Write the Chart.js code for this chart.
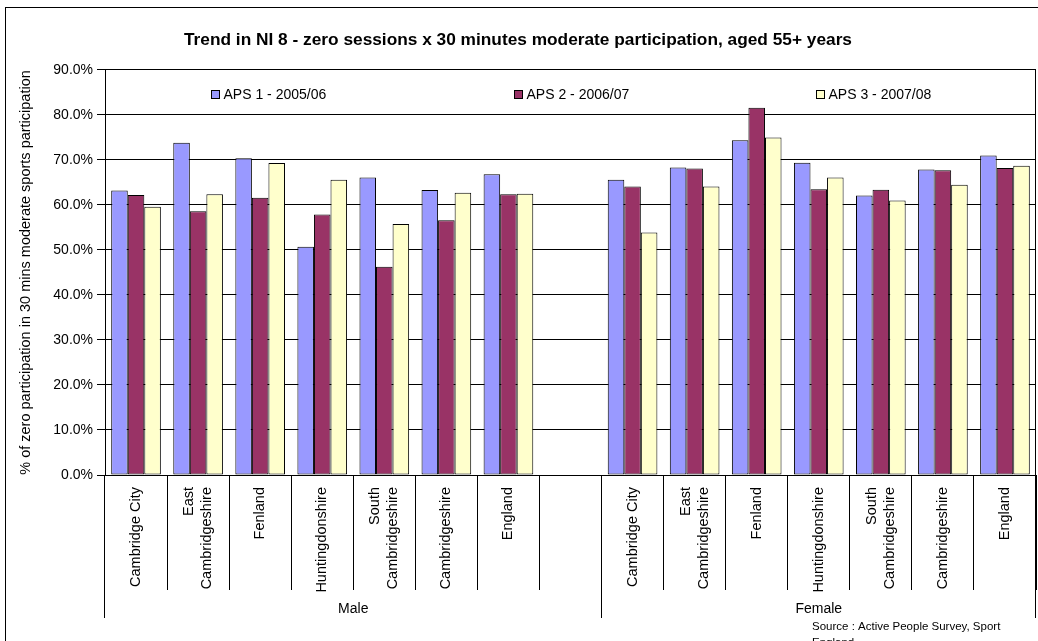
<!DOCTYPE html>
<html>
<head>
<meta charset="utf-8">
<script src="https://cdn.jsdelivr.net/npm/chart.js@4.4.0/dist/chart.umd.min.js"></script>
<style>
  body { margin: 0; background: #fff; }
  canvas { display: block; }
</style>
</head>
<body>
<canvas id="chart" width="1038" height="641"></canvas>
<script>
// areas, one label line per entry
const areas = [
  ["Cambridge City"],
  ["East", "Cambridgeshire"],
  ["Fenland"],
  ["Huntingdonshire"],
  ["South", "Cambridgeshire"],
  ["Cambridgeshire"],
  ["England"],
];
const groups = ["Male", "Female"];
const categories = [...areas, [""], ...areas];

const seriesNames = ["APS 1 - 2005/06", "APS 2 - 2006/07", "APS 3 - 2007/08"];
const aps1 = [63.2, 73.8, 70.4, 50.7, 66.1, 63.3, 66.8, null, 65.6, 68.3, 74.4, 69.4, 62.1, 67.9, 71.0];
const aps2 = [62.2, 58.6, 61.6, 57.9, 46.3, 56.6, 62.4, null, 64.1, 68.1, 81.6, 63.5, 63.4, 67.7, 68.2];
const aps3 = [59.6, 62.4, 69.3, 65.6, 55.8, 62.7, 62.5, null, 53.9, 64.1, 75.0, 66.1, 61.0, 64.5, 68.7];
const colors = ["#9999FF", "#993366", "#FFFFCC"];

const title = "Trend in NI 8 - zero sessions x 30 minutes moderate participation, aged 55+ years";
const yTitle = "% of zero participation in 30 mins moderate sports participation";
const sourceLines = ["Source : Active People Survey, Sport", "England"];

const FONT = "'Liberation Sans', Arial, sans-serif";

const decorations = {
  id: "decorations",
  beforeDraw(chart) {
    const { ctx } = chart;
    ctx.save();
    ctx.fillStyle = "#fff";
    ctx.fillRect(0, 0, chart.width, chart.height);
    ctx.strokeStyle = "#000";
    ctx.lineWidth = 1;
    ctx.strokeRect(5.5, 7.5, chart.width + 20, chart.height + 20);
    ctx.restore();
  },
  afterDraw(chart) {
    const { ctx, chartArea: area } = chart;
    const x = chart.scales.x;
    const half = (x.getPixelForValue(1) - x.getPixelForValue(0)) / 2;
    const edge = (i) => Math.round(x.getPixelForValue(i) - half) + 0.5;

    ctx.save();
    ctx.strokeStyle = "#000";
    ctx.lineWidth = 1;

    // right side of the plot box
    ctx.beginPath();
    ctx.moveTo(Math.round(area.right) - 0.5, area.top);
    ctx.lineTo(Math.round(area.right) - 0.5, area.bottom);
    ctx.stroke();

    // group dividers (Male / Female)
    const groupEdges = [0, 8, categories.length];
    ctx.beginPath();
    groupEdges.forEach((i) => {
      const px = i === categories.length ? Math.round(area.right) - 0.5 : edge(i) - 1;
      ctx.moveTo(px, area.bottom);
      ctx.lineTo(px, 618);
    });
    ctx.stroke();

    // category labels, rotated
    ctx.fillStyle = "#000";
    ctx.font = "14.5px " + FONT;
    ctx.textAlign = "right";
    ctx.textBaseline = "middle";
    categories.forEach((lines, i) => {
      const cx = x.getPixelForValue(i);
      ctx.save();
      ctx.translate(cx, 487);
      ctx.rotate(-Math.PI / 2);
      lines.forEach((line, j) => {
        ctx.fillText(line, 0, (j - (lines.length - 1) / 2) * 18);
      });
      ctx.restore();
    });

    // group labels
    ctx.font = "14px " + FONT;
    ctx.textAlign = "center";
    const b8 = x.getPixelForValue(8) - half;
    ctx.fillText(groups[0], (area.left + b8) / 2, 609);
    ctx.fillText(groups[1], (b8 + area.right) / 2, 609);

    // legend inside the plot
    ctx.textAlign = "left";
    ctx.font = "14px " + FONT;
    chart.data.datasets.forEach((ds, i) => {
      const bx = Math.round(area.left + 106 + i * 302.5) + 0.5;
      const by = 90.5;
      ctx.fillStyle = ds.backgroundColor;
      ctx.fillRect(bx, by, 8, 8);
      ctx.strokeRect(bx, by, 8, 8);
      ctx.fillStyle = "#000";
      ctx.fillText(ds.label, bx + 12, 95);
    });

    // source note
    ctx.font = "11.5px " + FONT;
    sourceLines.forEach((line, i) => {
      ctx.fillText(line, 812, 627 + i * 16);
    });
    ctx.restore();
  },
};

new Chart(document.getElementById("chart"), {
  type: "bar",
  data: {
    labels: categories,
    datasets: seriesNames.map((name, i) => ({
      label: name,
      data: [aps1, aps2, aps3][i],
      backgroundColor: colors[i],
      borderColor: "#000",
      borderWidth: 1,
      borderSkipped: false,
      categoryPercentage: 0.8,
      barPercentage: 1.0,
    })),
  },
  options: {
    responsive: false,
    animation: false,
    layout: { padding: { left: 0, right: 2, top: 0, bottom: 0 } },
    plugins: {
      legend: { display: false },
      tooltip: { enabled: false },
      title: {
        display: true,
        text: title,
        color: "#000",
        font: { family: FONT, size: 17.3, weight: "bold" },
        padding: { top: 29.6, bottom: 19.6 },
      },
    },
    scales: {
      x: {
        grid: {
          offset: true,
          drawOnChartArea: false,
          color: "#000",
          tickLength: 115,
        },
        border: { color: "#000" },
        ticks: { display: false },
        afterFit: (scale) => { scale.height = 166; },
      },
      y: {
        min: 0,
        max: 90,
        ticks: {
          stepSize: 10,
          color: "#000",
          padding: 4,
          font: { family: FONT, size: 14 },
          callback: (v) => v.toFixed(1) + "%",
        },
        grid: { color: "#000", tickLength: 8 },
        border: { color: "#000" },
        title: {
          display: true,
          text: yTitle,
          color: "#000",
          font: { family: FONT, size: 14.5 },
          padding: { top: 17, bottom: 0 },
        },
        afterFit: (scale) => { scale.width = 105; },
      },
    },
  },
  plugins: [decorations],
});
</script>
</body>
</html>
